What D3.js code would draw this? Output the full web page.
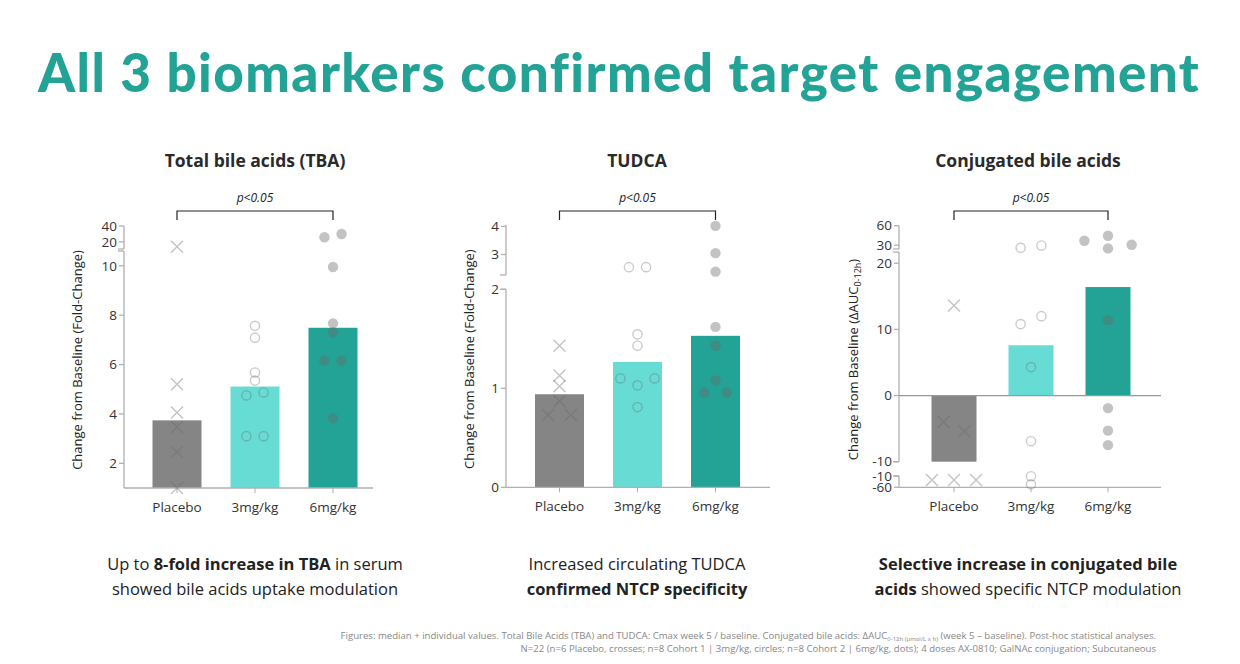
<!DOCTYPE html>
<html><head><meta charset="utf-8">
<script src="https://cdn.jsdelivr.net/npm/d3@7"></script>
<style>body{margin:0;background:#fff}svg{font-family:"Open Sans",sans-serif}</style>
</head><body><svg id="c" width="1240" height="664"></svg>
<script>
const groups = ["Placebo","3mg/kg","6mg/kg"];
const panelTitles = ["Total bile acids (TBA)","TUDCA","Conjugated bile acids"];
// panel 1: TBA fold change
const tbaBars = [3.74, 5.11, 7.49];
const tbaPlacebo = [13.9, 5.2, 4.06, 3.47, 2.46, 1.0];
const tba3mg = [7.57, 7.09, 5.68, 5.35, 4.87, 4.75, 3.1, 3.1];
const tba6mg = [25.8, 29.9, 9.95, 7.67, 7.3, 6.16, 6.16, 3.83];
const tbaJitter = [[0,0,0,0,0,0],[0,0,0,0,0.25,-0.25,-0.25,0.25],[-0.25,0.25,0,0,0,-0.25,0.25,0]];
// panel 2: TUDCA fold change
const tudBars = [0.94, 1.266, 1.53];
const tudPlacebo = [1.43, 1.13, 1.02, 0.87, 0.73, 0.73];
const tud3mg = [2.55, 2.55, 1.545, 1.43, 1.10, 1.10, 1.03, 0.81];
const tud6mg = [4.02, 3.05, 2.39, 1.62, 1.43, 1.08, 0.955, 0.955];
const tudJitter = [[0,0,0,0,-0.33,0.33],[-0.25,0.25,0,0,-0.5,0.5,0,0],[0,0,0,0,0,0,-0.33,0.33]];
// panel 3: conjugated bile acids ΔAUC
const cbaBars = [-10, 7.6, 16.4];
const cbaPlacebo = [13.6, -4.0, -5.4, -28, -28, -28];
const cba3mg = [25.8, 29.5, 10.8, 12.0, 4.3, -6.9, -12, -47];
const cba6mg = [36.7, 44.5, 24.9, 30.5, 11.4, -1.9, -5.3, -7.5];
const cbaJitter = [[0,-0.33,0.33,-0.7,0,0.7],[-0.33,0.33,-0.33,0.33,0,0,0,0],[-0.75,0,0,0.75,0,0,0,0]];
const captions = [
  [[["Up to ",0],["8-fold increase in TBA",1],[" in serum",0]],[["showed bile acids uptake modulation",0]]],
  [[["Increased circulating TUDCA",0]],[["confirmed NTCP specificity",1]]],
  [[["Selective increase in conjugated bile",1]],[["acids",1],[" showed specific NTCP modulation",0]]]
];
const colors = ["#858585","#66dcd4","#22a396"];

const svg = d3.select("#c");
svg.append("text").attr("x",38).attr("y",92).attr("fill","#22a396")
  .attr("font-family","Lato").attr("font-weight",900).attr("font-size",53)
  .attr("letter-spacing",1.4).text("All 3 biomarkers confirmed target engagement");

const panels = [
 {ax:124, xr:[138,372], xend:373, bw:49, bottom:488, title:255, lab:82,
  dom:[1,10.6,11,40], rng:[488,251,249,226], segs:[[1,10.6],[11,40]],
  ticks:[[2,"2"],[4,"4"],[6,"6"],[8,"8"],[10,"10"],[20,"20"],[40,"40"]],
  bars:tbaBars, pts:[tbaPlacebo,tba3mg,tba6mg], jit:tbaJitter, base:1, zero:null,
  ylab:"Change from Baseline (Fold-Change)"},
 {ax:506, xr:[520.5,754.5], xend:770, bw:49, bottom:487.3, title:637, lab:474,
  dom:[0,2,2.27,4.05], rng:[487.3,289.3,275,225], segs:[[0,2],[2.27,4.05]],
  ticks:[[0,"0"],[1,"1"],[2,"2"],[3,"3"],[4,"4"]],
  bars:tudBars, pts:[tudPlacebo,tud3mg,tud6mg], jit:tudJitter, base:0, zero:null,
  ylab:"Change from Baseline (Fold-Change)"},
 {ax:899, xr:[915.5,1146.5], xend:1161, bw:45, bottom:487.3, title:1028, lab:858,
  dom:[-60,-11,-10,21.7,24,60], rng:[487.3,476,461.7,252,249,225.7], segs:[[-60,-11],[-10,21.7],[24,60]],
  ticks:[[-60,"-60"],[-11,"-10"],[-10,"-10"],[0,"0"],[10,"10"],[20,"20"],[30,"30"],[60,"60"]],
  bars:cbaBars, pts:[cbaPlacebo,cba3mg,cba6mg], jit:cbaJitter, base:0, zero:0,
  ylab:null}
];

panels.forEach((p,pi)=>{
  const g = svg.append("g");
  const x = d3.scalePoint().domain(groups).range(p.xr).padding(0.5);
  const y = d3.scaleLinear().domain(p.dom).range(p.rng);
  g.append("text").attr("x",p.title).attr("y",167).attr("text-anchor","middle")
    .attr("font-weight",700).attr("font-size",17.5).attr("fill","#2a2a2a").text(panelTitles[pi]);
  g.selectAll("rect.b").data(p.bars).join("rect")
    .attr("x",(d,i)=>x(groups[i])-p.bw/2).attr("width",p.bw)
    .attr("y",d=>Math.min(y(d),y(p.base))).attr("height",d=>Math.abs(y(d)-y(p.base)))
    .attr("fill",(d,i)=>colors[i]);
  const axc="#b0b0b0";
  p.segs.forEach((s,si)=>{
    g.append("line").attr("x1",p.ax).attr("x2",p.ax).attr("y1",y(s[0])).attr("y2",y(s[1])).attr("stroke",axc).attr("stroke-width",1.3);
    [s[0],s[1]].forEach(v=>{
      if((si>0&&v===s[0])||(si<p.segs.length-1&&v===s[1]))
        g.append("line").attr("x1",p.ax-6).attr("x2",p.ax).attr("y1",y(v)).attr("y2",y(v)).attr("stroke",axc).attr("stroke-width",1.3);
    });
  });
  p.ticks.forEach(t=>{
    g.append("line").attr("x1",p.ax-5).attr("x2",p.ax).attr("y1",y(t[0])).attr("y2",y(t[0])).attr("stroke",axc).attr("stroke-width",1.3);
    g.append("text").attr("x",p.ax-7).attr("y",y(t[0])).attr("dy","0.35em").attr("text-anchor","end")
      .attr("font-size",13.5).attr("fill","#333").text(t[1]);
  });
  g.append("line").attr("x1",p.ax).attr("x2",p.xend).attr("y1",p.bottom).attr("y2",p.bottom).attr("stroke",axc).attr("stroke-width",1.3);
  if(p.zero!==null) g.append("line").attr("x1",p.ax).attr("x2",p.xend).attr("y1",y(p.zero)).attr("y2",y(p.zero)).attr("stroke","#999").attr("stroke-width",1.3);
  groups.forEach(gr=>{
    g.append("line").attr("x1",x(gr)).attr("x2",x(gr)).attr("y1",p.bottom).attr("y2",p.bottom+5).attr("stroke",axc);
    g.append("text").attr("x",x(gr)).attr("y",p.bottom+24).attr("text-anchor","middle").attr("font-size",13.5).attr("fill","#333").text(gr);
  });
  const yl = g.append("text").attr("transform",`translate(${p.lab},${(p.rng[0]+p.rng[p.rng.length-1])/2+3}) rotate(-90)`)
    .attr("text-anchor","middle").attr("font-size",13).attr("fill","#222");
  if(p.ylab) yl.text(p.ylab);
  else { yl.append("tspan").text("Change from Baseline (ΔAUC");
    yl.append("tspan").attr("font-size",9).attr("dy",3).text("0-12h");
    yl.append("tspan").attr("dy",-3).text(")"); }
  p.pts.forEach((arr,gi)=>{
    arr.forEach((v,k)=>{
      const cx = x(groups[gi]) + p.jit[gi][k]*p.bw*0.7, cy = y(v);
      if(gi===0){
        const r=6;
        g.append("path").attr("d",`M${cx-r},${cy-r}L${cx+r},${cy+r}M${cx-r},${cy+r}L${cx+r},${cy-r}`)
          .attr("stroke","#6a6a6a").attr("stroke-opacity",0.4).attr("stroke-width",1.4);
      } else if(gi===1){
        g.append("circle").attr("cx",cx).attr("cy",cy).attr("r",4.6).attr("fill","none")
          .attr("stroke","#6a6a6a").attr("stroke-opacity",0.35).attr("stroke-width",1.4);
      } else {
        g.append("circle").attr("cx",cx).attr("cy",cy).attr("r",5.2).attr("fill","#6a6a6a").attr("fill-opacity",0.4);
      }
    });
  });
  const x1=x(groups[0]), x2=x(groups[2]);
  g.append("path").attr("d",`M${x1},220V211H${x2}V220`).attr("fill","none").attr("stroke","#222").attr("stroke-width",1.2);
  g.append("text").attr("x",(x1+x2)/2).attr("y",202).attr("text-anchor","middle").attr("font-style","italic")
    .attr("font-size",12).attr("fill","#222").text("p<0.05");
  captions[pi].forEach((line,li)=>{
    const t = g.append("text").attr("x",p.title).attr("y",570+li*25).attr("text-anchor","middle").attr("font-size",16.5).attr("fill","#222");
    line.forEach(s=>t.append("tspan").attr("font-weight",s[1]?700:400).text(s[0]));
  });
});
const foot = svg.append("g").attr("font-size",9.6).attr("fill","#888").attr("text-anchor","end");
const f1 = foot.append("text").attr("x",1156).attr("y",639);
f1.append("tspan").text("Figures: median + individual values. Total Bile Acids (TBA) and TUDCA: Cmax week 5 / baseline. Conjugated bile acids: ΔAUC");
f1.append("tspan").attr("font-size",6).attr("dy",2).text("0-12h (µmol/L x h)");
f1.append("tspan").attr("dy",-2).text(" (week 5 – baseline). Post-hoc statistical analyses.");
foot.append("text").attr("x",1156).attr("y",652).text("N=22 (n=6 Placebo, crosses; n=8 Cohort 1 | 3mg/kg, circles; n=8 Cohort 2 | 6mg/kg, dots); 4 doses AX-0810; GalNAc conjugation; Subcutaneous");
</script></body></html>
